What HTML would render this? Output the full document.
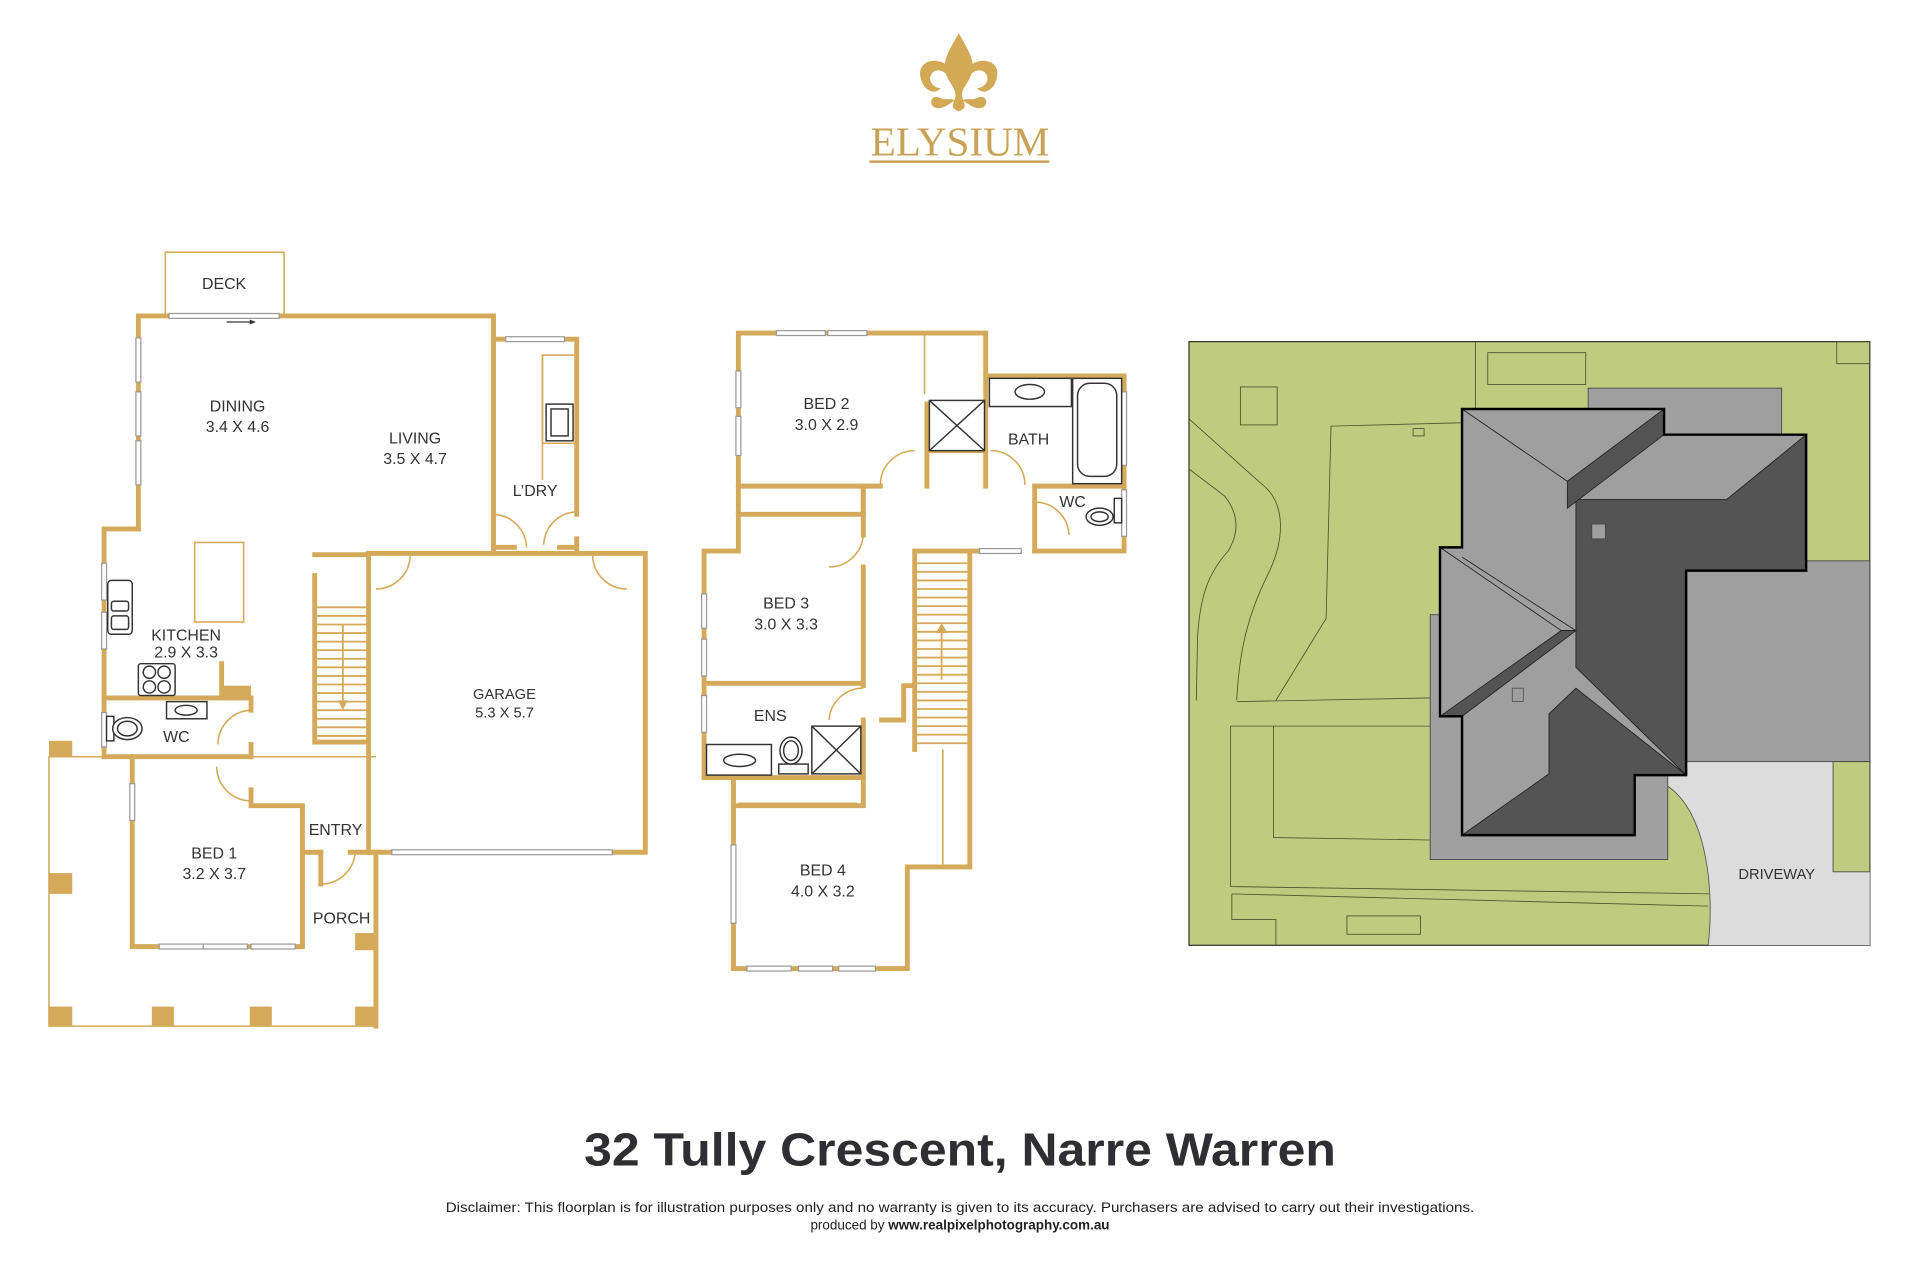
<!DOCTYPE html>
<html><head><meta charset="utf-8"><style>
html,body{margin:0;padding:0;background:#fff;}
svg{display:block;}
text{font-family:"Liberation Sans",sans-serif;}
</style></head><body>
<svg width="1920" height="1280" viewBox="0 0 1568 1045.33" xmlns="http://www.w3.org/2000/svg">
<rect width="1568" height="1046" fill="#fff"/>
<!-- Logo -->
<g fill="#d2a955">
<path d="M783,27 C776,40 770,48 772,58 C774,68 782,72 780,80 C778,86 776,88 783,91 C790,88 788,86 786,80 C784,72 792,68 794,58 C796,48 790,40 783,27Z"/>
<path d="M777,56 C765,44 748,50 752,64 C754,74 764,78 768,72 C764,72 758,68 760,62 C762,56 770,56 774,62Z"/>
<path d="M789,56 C801,44 818,50 814,64 C812,74 802,78 798,72 C802,72 808,68 806,62 C804,56 796,56 792,62Z"/>
<path d="M768,80 C760,76 758,86 764,88 C770,90 776,84 780,82 C776,80 772,82 768,80Z"/>
<path d="M798,80 C806,76 808,86 802,88 C796,90 790,84 786,82 C790,80 794,82 798,80Z"/>
</g>
<text x="784" y="127" text-anchor="middle" font-size="34" fill="#c9a257" textLength="146" lengthAdjust="spacingAndGlyphs" style="font-family:'Liberation Serif',serif">ELYSIUM</text>
<rect x="710" y="131" width="147" height="2" fill="#c9a257"/>

<g fill="none" stroke="#d4aa5a" stroke-width="4" stroke-linecap="square">
<!-- ground floor -->
<polyline points="113,432 113,258 403,258 403,452"/>
<polyline points="85,618 85,432 113,432"/>
<polyline points="403,277 471,277 471,420"/>
<line x1="403" y1="447" x2="420" y2="447"/><line x1="457" y1="447" x2="471" y2="447"/><line x1="471" y1="440" x2="471" y2="452"/>
<polyline points="303,452 527,452 527,696 303,696"/>
<line x1="301" y1="452" x2="301" y2="696"/>
<polyline points="257,470 257,606 301,606"/><line x1="257" y1="453" x2="301" y2="453"/>
<polyline points="85,570 181,570 181,542"/>
<line x1="85" y1="618" x2="205" y2="618"/>
<polyline points="205,570 205,580"/><polyline points="205,608 205,618"/>
<polyline points="108,618 108,773 247,773 247,658 205,658 205,645"/>
<line x1="247" y1="696" x2="262" y2="696"/><line x1="286" y1="696" x2="307" y2="696"/>
<line x1="307" y1="696" x2="307" y2="838"/>
<line x1="262" y1="696" x2="262" y2="722"/>
<!-- upper floor -->
<polyline points="719,397 603,397 603,272 805,272 805,330"/>
<polyline points="805,307 918,307 918,450 845,450"/>
<line x1="757" y1="330" x2="757" y2="397"/><line x1="805" y1="330" x2="805" y2="397"/>
<line x1="757" y1="368" x2="805" y2="368"/>
<line x1="845" y1="397" x2="845" y2="450"/><line x1="845" y1="397" x2="918" y2="397"/>
<line x1="809" y1="450" x2="792" y2="450"/>
<polyline points="705,397 705,437"/>
<polyline points="705,463 705,560"/>
<polyline points="603,397 603,450 575,450 575,635 599,635 599,791 741,791 741,708 792,708 792,450 747,450 747,612"/>
<line x1="575" y1="558" x2="705" y2="558"/>
<line x1="575" y1="635" x2="705" y2="635"/>
<polyline points="705,588 705,658 599,658"/>
<polyline points="720,588 738,588 738,560 747,560"/>
<line x1="705" y1="397" x2="705" y2="420"/><line x1="603" y1="420" x2="705" y2="420"/>
</g>
<g fill="none" stroke="#d4aa5a" stroke-width="1.3">
<rect x="135" y="206" width="97" height="52"/>
<polyline points="307,618 40,618 40,838 307,838"/>
<rect x="159" y="443" width="40" height="65"/>
<rect x="443" y="290" width="28" height="72"/>
<line x1="443" y1="290" x2="443" y2="392"/>
<line x1="755" y1="272" x2="755" y2="322"/>
<line x1="770" y1="612" x2="770" y2="708"/>
<line x1="607" y1="421" x2="700" y2="421"/>
<line x1="603" y1="656" x2="700" y2="656"/>
<path d="M403,420 A28,28 0 0 1 430,447"/>
<path d="M471,418 A28,28 0 0 0 444,445"/>
<path d="M335,454 A28,28 0 0 1 307,481"/>
<path d="M484,454 A28,28 0 0 0 512,481"/>
<path d="M205,580 A28,28 0 0 0 178,608"/>
<path d="M177,626 A28,28 0 0 0 205,654"/>
<path d="M290,697 A28,28 0 0 1 262,722"/>
<path d="M719,396 A28,28 0 0 1 747,368"/>
<path d="M809,368 A28,28 0 0 1 837,396"/>
<path d="M845,410 A28,28 0 0 1 873,437"/>
<path d="M705,437 A28,28 0 0 1 677,463"/>
<path d="M705,562 A28,28 0 0 0 677,588"/>
</g>
<!-- stairs -->
<g stroke="#d4aa5a" stroke-width="1.5">
<line x1="258" y1="496" x2="300" y2="496"/><line x1="258" y1="503" x2="300" y2="503"/><line x1="258" y1="510" x2="300" y2="510"/><line x1="258" y1="517" x2="300" y2="517"/><line x1="258" y1="524" x2="300" y2="524"/><line x1="258" y1="531" x2="300" y2="531"/><line x1="258" y1="538" x2="300" y2="538"/><line x1="258" y1="545" x2="300" y2="545"/><line x1="258" y1="552" x2="300" y2="552"/><line x1="258" y1="559" x2="300" y2="559"/><line x1="258" y1="566" x2="300" y2="566"/><line x1="258" y1="573" x2="300" y2="573"/><line x1="258" y1="580" x2="300" y2="580"/><line x1="258" y1="587" x2="300" y2="587"/><line x1="258" y1="594" x2="300" y2="594"/><line x1="258" y1="601" x2="300" y2="601"/>
<line x1="280" y1="510" x2="280" y2="572"/>
<line x1="748" y1="460" x2="791" y2="460"/><line x1="748" y1="467" x2="791" y2="467"/><line x1="748" y1="474" x2="791" y2="474"/><line x1="748" y1="481" x2="791" y2="481"/><line x1="748" y1="488" x2="791" y2="488"/><line x1="748" y1="495" x2="791" y2="495"/><line x1="748" y1="502" x2="791" y2="502"/><line x1="748" y1="509" x2="791" y2="509"/><line x1="748" y1="516" x2="791" y2="516"/><line x1="748" y1="523" x2="791" y2="523"/><line x1="748" y1="530" x2="791" y2="530"/><line x1="748" y1="537" x2="791" y2="537"/><line x1="748" y1="544" x2="791" y2="544"/><line x1="748" y1="551" x2="791" y2="551"/><line x1="748" y1="558" x2="791" y2="558"/><line x1="748" y1="565" x2="791" y2="565"/><line x1="748" y1="572" x2="791" y2="572"/><line x1="748" y1="579" x2="791" y2="579"/><line x1="748" y1="586" x2="791" y2="586"/><line x1="748" y1="593" x2="791" y2="593"/><line x1="748" y1="600" x2="791" y2="600"/><line x1="748" y1="607" x2="791" y2="607"/>
<line x1="769" y1="517" x2="769" y2="555"/>
</g>
<path d="M276,572 L284,572 L280,580Z M764,517 L774,517 L769,509Z" fill="#d4aa5a"/>
<!-- posts -->
<g fill="#d4aa5a">
<rect x="40" y="605" width="19" height="13"/><rect x="40" y="713" width="19" height="17"/><rect x="40" y="822" width="19" height="16"/><rect x="124" y="822" width="18" height="16"/><rect x="204" y="822" width="18" height="16"/><rect x="290" y="822" width="17" height="16"/><rect x="290" y="762" width="17" height="14"/><rect x="181" y="560" width="24" height="12"/>
</g>
<!-- windows -->
<g fill="#fff" stroke="#999" stroke-width="1">
<rect x="138" y="256" width="90" height="4"/>
<rect x="111" y="276" width="4" height="36"/><rect x="111" y="320" width="4" height="36"/><rect x="111" y="360" width="4" height="36"/>
<rect x="83" y="460" width="4" height="30"/><rect x="83" y="500" width="4" height="30"/>
<rect x="83" y="582" width="4" height="28"/>
<rect x="106" y="640" width="4" height="30"/>
<rect x="130" y="771" width="36" height="4"/><rect x="166" y="771" width="36" height="4"/><rect x="205" y="771" width="36" height="4"/>
<rect x="320" y="694" width="180" height="4"/>
<rect x="413" y="275" width="48" height="4"/>
<rect x="634" y="270" width="40" height="4"/><rect x="676" y="270" width="32" height="4"/>
<rect x="601" y="303" width="4" height="30"/><rect x="601" y="340" width="4" height="32"/>
<rect x="573" y="485" width="4" height="28"/><rect x="573" y="522" width="4" height="30"/>
<rect x="573" y="568" width="4" height="30"/>
<rect x="597" y="690" width="4" height="64"/>
<rect x="610" y="789" width="36" height="4"/><rect x="652" y="789" width="28" height="4"/><rect x="685" y="789" width="30" height="4"/>
<rect x="800" y="448" width="34" height="4"/>
<rect x="916" y="320" width="4" height="60"/><rect x="916" y="400" width="4" height="38"/>
</g>
<path d="M185,263 L208,263" stroke="#333" stroke-width="1"/><path d="M204,261 L209,263 L204,265Z" fill="#333"/>
<!-- fixtures -->
<g fill="#fff" stroke="#333" stroke-width="1.2">
<rect x="446" y="330" width="22" height="30"/><rect x="450" y="334" width="14" height="22"/>
<rect x="88" y="474" width="20" height="44" rx="3"/><rect x="91" y="491" width="14" height="8" rx="2"/><rect x="91" y="503" width="14" height="11" rx="2"/>
<rect x="113" y="542" width="30" height="26" rx="2"/><circle cx="122" cy="549" r="5"/><circle cx="134" cy="549" r="5"/><circle cx="122" cy="561" r="5"/><circle cx="134" cy="561" r="5"/>
<rect x="136" y="573" width="33" height="14"/><ellipse cx="152" cy="580" rx="9" ry="4"/>
<rect x="87" y="585" width="6" height="20"/><ellipse cx="104" cy="595" rx="12" ry="9"/><ellipse cx="104" cy="595" rx="8" ry="6"/>
<rect x="759" y="327" width="45" height="41"/><path d="M759,327 L804,368 M804,327 L759,368"/>
<rect x="808" y="309" width="67" height="23"/><ellipse cx="841" cy="320" rx="12" ry="6"/>
<rect x="876" y="309" width="40" height="86"/><rect x="880" y="313" width="32" height="76" rx="10"/>
<rect x="910" y="407" width="6" height="20"/><ellipse cx="898" cy="422" rx="11" ry="7"/><ellipse cx="898" cy="422" rx="7" ry="4"/>
<rect x="577" y="608" width="53" height="25"/><ellipse cx="604" cy="621" rx="13" ry="5"/>
<rect x="636" y="624" width="24" height="8"/><ellipse cx="646" cy="613" rx="9" ry="11"/><ellipse cx="646" cy="613" rx="6" ry="8"/>
<rect x="663" y="593" width="40" height="39"/><path d="M663,593 L703,632 M703,593 L663,632"/>
</g>
<!-- labels -->
<g font-size="13" fill="#333" text-anchor="middle">
<text x="183" y="236">DECK</text>
<text x="194" y="336">DINING</text><text x="194" y="353">3.4 X 4.6</text>
<text x="339" y="362">LIVING</text><text x="339" y="379">3.5 X 4.7</text>
<text x="437" y="405">L’DRY</text>
<text x="152" y="523">KITCHEN</text><text x="152" y="537">2.9 X 3.3</text>
<text x="144" y="606">WC</text>
<text x="412" y="571" font-size="12">GARAGE</text><text x="412" y="586" font-size="12">5.3 X 5.7</text>
<text x="274" y="682">ENTRY</text>
<text x="175" y="701">BED 1</text><text x="175" y="718">3.2 X 3.7</text>
<text x="279" y="754">PORCH</text>
<text x="675" y="334">BED 2</text><text x="675" y="351">3.0 X 2.9</text>
<text x="840" y="363">BATH</text>
<text x="876" y="414">WC</text>
<text x="642" y="497">BED 3</text><text x="642" y="514">3.0 X 3.3</text>
<text x="629" y="589">ENS</text>
<text x="672" y="715">BED 4</text><text x="672" y="732">4.0 X 3.2</text>
</g>
<!-- site plan -->
<rect x="971" y="279" width="556" height="493" fill="#bfcb7e" stroke="#333" stroke-width="1"/>
<g fill="none" stroke="#4a5530" stroke-width="0.7">
<rect x="1013" y="316" width="30" height="31"/>
<rect x="1215" y="288" width="80" height="26"/>
<rect x="1154" y="350" width="9" height="6"/>
<rect x="1500" y="279" width="27" height="18"/>
<line x1="1205" y1="279" x2="1205" y2="345"/>
<path d="M971,342 L1030,395 C1050,410 1050,440 1035,470 C1020,500 1012,530 1010,572"/>
<path d="M971,383 L1000,405 C1012,420 1012,435 1003,450 C985,470 980,490 978,520 L977,572"/>
<path d="M1205,345 L1087,348 L1083,505 L1042,572"/>
<path d="M1010,573 L1168,570"/>
<path d="M1005,593 L1168,593 M1005,593 L1005,724 L1398,730 M1040,593 L1040,684 L1168,686"/>
<path d="M1006,730 L1006,751 L1042,751 L1042,772 M1006,730 L1395,740"/>
<rect x="1100" y="748" width="60" height="15"/>
</g>
<path d="M1362,634 L1362,642 C1395,665 1400,730 1395,772 L1527,772 L1527,712 L1497,712 L1497,622 L1362,622Z" fill="#dcdcdc"/>
<path d="M1362,642 C1395,665 1400,730 1395,772" fill="none" stroke="#555" stroke-width="0.7"/>
<g fill="#9f9f9f" stroke="#444" stroke-width="0.7">
<rect x="1297" y="317" width="158" height="60"/>
<rect x="1360" y="458" width="167" height="164"/>
<rect x="1168" y="502" width="194" height="200"/>
</g>
<rect x="1497" y="622" width="30" height="90" fill="#bfcb7e" stroke="#444" stroke-width="0.7"/>
<polygon points="1194,334 1359,334 1359,355 1475,355 1475,466 1377,466 1377,633 1335,633 1335,682 1194,682 1194,585 1176,585 1176,447 1194,447" fill="#9f9f9f"/>
<g fill="#545454" stroke="#222" stroke-width="0.7">
<polygon points="1287,408 1410,408 1475,355 1475,466 1377,466 1377,633 1287,545"/>
<polygon points="1265,583 1287,562 1377,633 1335,633 1335,682 1194,682 1265,632"/>
<polygon points="1280,393 1359,334 1359,355 1280,415"/>
<polygon points="1176,585 1275,515 1287,515 1194,585"/>
</g>
<g fill="none" stroke="#222" stroke-width="0.7">
<path d="M1194,334 L1280,393 M1176,447 L1275,515 L1287,515 M1194,455 L1287,515"/>
</g>
<polygon points="1194,334 1359,334 1359,355 1475,355 1475,466 1377,466 1377,633 1335,633 1335,682 1194,682 1194,585 1176,585 1176,447 1194,447" fill="none" stroke="#000" stroke-width="2"/>
<rect x="1300" y="428" width="11" height="12" fill="#9f9f9f" stroke="#444" stroke-width="0.6"/>
<rect x="1235" y="562" width="9" height="11" fill="#9f9f9f" stroke="#444" stroke-width="0.6"/>
<text x="1451" y="718" font-size="12" fill="#333" text-anchor="middle">DRIVEWAY</text>
<!-- footer -->
<text x="784" y="952" font-size="38" font-weight="bold" fill="#2e2e33" text-anchor="middle" textLength="614" lengthAdjust="spacingAndGlyphs">32 Tully Crescent, Narre Warren</text>
<text x="784" y="990" font-size="11" fill="#222" text-anchor="middle" textLength="840" lengthAdjust="spacingAndGlyphs">Disclaimer: This floorplan is for illustration purposes only and no warranty is given to its accuracy. Purchasers are advised to carry out their investigations.</text>
<text x="784" y="1004" font-size="11" fill="#222" text-anchor="middle">produced by <tspan font-weight="bold">www.realpixelphotography.com.au</tspan></text>
</svg>
</body></html>
